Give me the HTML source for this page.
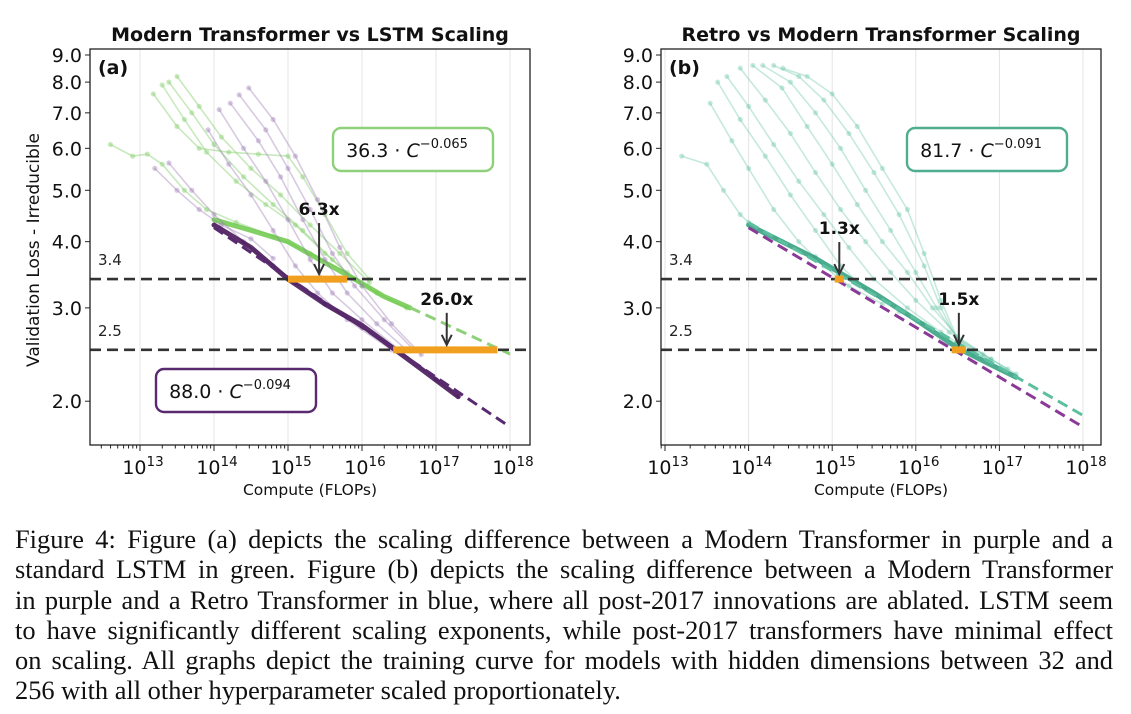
<!DOCTYPE html>
<html><head><meta charset="utf-8">
<style>
body{margin:0;background:#fff;width:1131px;height:714px;overflow:hidden;position:relative}
svg{position:absolute;left:0;top:0}
.cap{position:absolute;left:15px;top:524px;width:1098px;font-family:"Liberation Serif",serif;font-size:26.4px;line-height:30.3px;color:#111}
.cap div{white-space:nowrap;text-align:justify;text-align-last:justify}
.cap div.last{text-align-last:left}
</style></head><body>
<svg id="chart" width="1131" height="520" font-family="'DejaVu Sans','Liberation Sans',sans-serif"></svg>
<div class="cap">
<div>Figure 4: Figure (a) depicts the scaling difference between a Modern Transformer in purple and a</div>
<div>standard LSTM in green. Figure (b) depicts the scaling difference between a Modern Transformer</div>
<div>in purple and a Retro Transformer in blue, where all post-2017 innovations are ablated. LSTM seem</div>
<div>to have significantly different scaling exponents, while post-2017 transformers have minimal effect</div>
<div>on scaling. All graphs depict the training curve for models with hidden dimensions between 32 and</div>
<div class="last">256 with all other hyperparameter scaled proportionately.</div>
</div>
<script>
// ---- data ----
const yTicks=[9,8,7,6,5,4,3,2];
const yTickLabels=["9.0","8.0","7.0","6.0","5.0","4.0","3.0","2.0"];
const xTicks=[13,14,15,16,17,18];
const thresholds=[3.4,2.5];
const thresholdLabels=["3.4","2.5"];
const purpleCurvesA=[
[[13.2,5.5],[13.5,5.0],[13.8,4.6],[14.1,4.3],[14.5,4.05],[14.8,3.72]],
[[13.39,5.63],[13.7,5.0],[14.0,4.5],[14.4,4.0],[14.8,3.6],[15.1,3.35],[15.5,3.05],[16.0,2.75],[16.5,2.5],[17.0,2.2],[17.3,2.04]],
[[13.92,6.5],[14.2,5.6],[14.5,4.9],[14.8,4.2],[15.1,3.6],[15.4,3.2],[15.8,2.85],[16.4,2.5]],
[[14.07,7.1],[14.4,6.0],[14.7,5.2],[15.0,4.4],[15.3,3.7],[15.6,3.2],[16.0,2.85],[16.5,2.5]],
[[14.22,7.3],[14.6,6.2],[14.9,5.3],[15.2,4.4],[15.5,3.7],[15.8,3.2],[16.2,2.8],[16.6,2.5]],
[[14.34,7.57],[14.7,6.5],[15.0,5.5],[15.3,4.6],[15.6,3.8],[15.9,3.3],[16.3,2.85],[16.7,2.5]],
[[14.47,7.8],[14.8,6.8],[15.1,5.8],[15.4,4.8],[15.7,3.9],[16.0,3.3],[16.4,2.8],[16.8,2.45]]];
const purpleEnvA=[[14.0,4.3],[14.5,3.9],[15.0,3.4],[15.5,3.05],[16.0,2.78],[16.4,2.53],[16.8,2.3],[17.3,2.04]];
const greenCurvesA=[
[[12.6,6.1],[12.9,5.8],[13.1,5.85],[13.3,5.6],[13.6,5.0],[13.9,4.6],[14.3,4.35],[14.8,4.1],[15.3,3.8],[15.8,3.5],[16.2,3.2],[16.6,3.0]],
[[13.18,7.6],[13.5,6.6],[13.8,6.0],[14.2,5.9],[14.6,5.85],[15.0,5.8],[15.2,5.3],[15.5,4.5],[15.8,3.8],[16.1,3.4]],
[[13.3,7.9],[13.6,6.8],[13.9,5.9],[14.3,5.2],[14.7,4.7],[15.1,4.3],[15.5,3.8],[15.9,3.4]],
[[13.39,8.0],[13.7,7.0],[14.0,6.1],[14.4,5.3],[14.8,4.7],[15.2,4.2],[15.6,3.7],[16.0,3.3]],
[[13.5,8.2],[13.8,7.2],[14.1,6.3],[14.5,5.5],[14.9,4.9],[15.3,4.3],[15.7,3.8],[16.1,3.35]]];
const greenEnvA=[[14.0,4.4],[14.5,4.2],[15.0,4.0],[15.5,3.65],[15.9,3.4],[16.3,3.15],[16.65,3.0]];
const tealCurvesB=[
[[13.2,5.8],[13.5,5.6],[13.7,5.0],[13.9,4.5],[14.0,4.35],[14.4,4.0],[14.8,3.75]],
[[13.54,7.3],[13.8,6.2],[14.0,5.5],[14.3,4.6],[14.6,4.0],[14.9,3.6],[15.2,3.3],[15.6,3.05]],
[[13.63,8.0],[13.9,6.8],[14.2,5.8],[14.5,4.9],[14.8,4.2],[15.1,3.6],[15.4,3.25],[15.8,2.95],[16.1,2.8]],
[[13.74,8.2],[14.0,7.2],[14.3,6.1],[14.6,5.2],[14.9,4.5],[15.2,3.9],[15.5,3.4],[15.9,3.0],[16.3,2.7],[16.7,2.45]],
[[13.9,8.5],[14.2,7.4],[14.5,6.4],[14.8,5.4],[15.1,4.6],[15.4,4.0],[15.7,3.5],[16.0,3.1],[16.4,2.7],[16.8,2.45],[17.1,2.3]],
[[14.05,8.6],[14.4,7.8],[14.7,6.6],[15.0,5.6],[15.3,4.7],[15.6,4.0],[15.9,3.5],[16.2,3.0],[16.5,2.65],[16.9,2.4],[17.2,2.25]],
[[14.17,8.6],[14.5,8.0],[14.8,7.0],[15.1,6.0],[15.4,5.0],[15.7,4.2],[16.0,3.5],[16.25,3.0],[16.5,2.62],[16.9,2.4]],
[[14.3,8.6],[14.6,8.2],[14.9,7.4],[15.2,6.4],[15.5,5.4],[15.8,4.5],[16.1,3.6],[16.3,3.0],[16.5,2.6],[16.8,2.42]],
[[14.41,8.5],[14.7,8.2],[15.0,7.6],[15.3,6.6],[15.6,5.5],[15.9,4.6],[16.1,3.8],[16.3,3.1],[16.5,2.62],[16.7,2.48]]];
const tealEnvB=[[14.0,4.3],[14.8,3.72],[15.5,3.2],[16.0,2.85],[16.5,2.52],[17.0,2.3],[17.2,2.22]];
// fits: [coef, exponent, logC start, logC end]
const fitPurpleA=[88.0,0.094,14.0,18.0];
const fitGreenA=[36.3,0.065,16.65,18.0];
const fitPurpleB=[88.0,0.094,14.0,18.0];
const fitTealB=[81.7,0.091,14.0,18.0];
// gaps: [loss, logC from, logC to, label]
const gapsA=[[3.4,15.0,15.8,"6.3x"],[2.5,16.42,17.83,"26.0x"]];
const gapsB=[[3.4,15.03,15.14,"1.3x"],[2.5,16.43,16.6,"1.5x"]];

const NS="http://www.w3.org/2000/svg";
const svg=document.getElementById('chart');
function el(tag,attrs,parent,text){const e=document.createElementNS(NS,tag);for(const k in attrs)e.setAttribute(k,attrs[k]);if(text!==undefined)e.textContent=text;(parent||svg).appendChild(e);return e;}
const yOf=L=>55+(Math.log10(9)-Math.log10(L))*530;

function panel(P){
  const g=el('g',{});
  
  
  const xOf=c=>P.x13+(c-13)*P.dec;
  xTicks.forEach(t=>{const l=el('line',{x1:xOf(t),x2:xOf(t),y1:P.top,y2:P.bot,stroke:'#e4e4e4','stroke-width':1},g);
    
    });
  const clip=el('clipPath',{id:P.name+'-clip'},g);
  el('rect',{x:P.left,y:P.top,width:P.right-P.left,height:P.bot-P.top},clip);
  const pg=el('g',{'clip-path':'url(#'+P.name+'-clip)'},g);
  function curve(pts,color,op,w,dots,nm){
    const d=pts.map((p,i)=>(i?'L':'M')+xOf(p[0]).toFixed(1)+' '+yOf(p[1]).toFixed(1)).join(' ');
    const c=el('path',{d:d,fill:'none',stroke:color,'stroke-opacity':op,'stroke-width':w,'stroke-linejoin':'round','stroke-linecap':'round'},pg);
    
    
    if(dots)pts.forEach(p=>{const m=el('circle',{cx:xOf(p[0]),cy:yOf(p[1]),r:2.6,fill:color,'fill-opacity':op},pg);
      
      });
  }
  function fit(f,color,nm){
    const [a,b,c0,c1]=f;
    const l=el('line',{x1:xOf(c0),y1:yOf(a*Math.pow(10,-b*c0)),x2:xOf(c1),y2:yOf(a*Math.pow(10,-b*c1)),stroke:color,'stroke-width':3,'stroke-dasharray':'11 6'},pg);
    
    
  }
  P.series.forEach(s=>{
    s.curves.forEach(cv=>curve(cv,s.color,s.op,1.6,true,s.nm+'-training-curve'));
    curve(s.env,s.envColor,0.85,5,false,s.nm+'-envelope');
  });
  P.fits.forEach(f=>fit(f[0],f[1],f[2]));
  thresholds.forEach((t,i)=>{
    const l=el('line',{x1:P.left,x2:P.right,y1:yOf(t),y2:yOf(t),stroke:'#333','stroke-width':2.6,'stroke-dasharray':'11 6'},g);
    
    
    const tx=el('text',{x:P.left+8,y:yOf(t)-14,'font-size':15,fill:'#222'},g,thresholdLabels[i]);
    
    
  });
  P.gaps.forEach((gp,i)=>{
    const [L,c0,c1,lab]=gp;const y=yOf(L);
    const len=P.arrowLen[i];
    const b=el('line',{x1:xOf(c0),x2:xOf(c1),y1:y,y2:y,stroke:'#f0a01e','stroke-width':7},g);
    
    
    const ax=xOf(P.arrowAt(c0,c1));
    const a=el('line',{x1:ax,x2:ax,y1:y-len,y2:y-5,stroke:'#333','stroke-width':2},g);
    
    
    el('path',{d:`M${ax-5} ${y-15} L${ax} ${y-5} L${ax+5} ${y-15}`,fill:'none',stroke:'#333','stroke-width':2},g);
    const t=el('text',{x:ax,y:y-len-8,'text-anchor':'middle','font-size':17,'font-weight':'bold',fill:'#111'},g,lab);
    
    
  });
  P.boxes.forEach(bx=>{
    const r=el('rect',{x:bx.x,y:bx.y,width:bx.w,height:43,rx:8,fill:'#fff',stroke:bx.color,'stroke-width':2.4},g);
    
    
    const t=el('text',{x:bx.x+bx.w/2-6,y:bx.y+29,'text-anchor':'middle','font-size':19,fill:'#111'},g);
    
    
    el('tspan',{},t,bx.coef+' · ');
    el('tspan',{'font-style':'italic'},t,'C');
    el('tspan',{dy:-9,'font-size':13},t,'−'+bx.exp);
  });
  const fr=el('rect',{x:P.left,y:P.top,width:P.right-P.left,height:P.bot-P.top,fill:'none',stroke:'#222','stroke-width':1.3},g);
  
  
  for(let d=12;d<=18;d++)for(let k=1;k<10;k++){
    const c=d+Math.log10(k);const x=xOf(c);if(x<P.left||x>P.right)continue;
    el('line',{x1:x,x2:x,y1:P.bot,y2:P.bot+(k===1?6:3.5),stroke:'#222','stroke-width':1},g);
  }
  xTicks.forEach(t=>{
    const tx=el('text',{x:xOf(t)+3,y:P.bot+29,'text-anchor':'middle','font-size':19,fill:'#111'},g);
    
    
    el('tspan',{},tx,'10');
    el('tspan',{dy:-8,'font-size':13.5},tx,String(t));
  });
  const xl=el('text',{x:(P.left+P.right)/2,y:P.bot+50,'text-anchor':'middle','font-size':15.5,fill:'#111'},g,'Compute (FLOPs)');
  
  
  yTicks.forEach((t,i)=>{
    el('line',{x1:P.left-5,x2:P.left,y1:yOf(t),y2:yOf(t),stroke:'#222'},g);
    const tx=el('text',{x:P.left-8,y:yOf(t)+7,'text-anchor':'end','font-size':19,fill:'#111'},g,yTickLabels[i]);
    
    
  });
  const ti=el('text',{x:(P.left+P.right)/2,y:41,'text-anchor':'middle','font-size':19,'font-weight':'bold',fill:'#111'},g,P.title);
  
  
  const pl=el('text',{x:P.left+8,y:P.top+25,'font-size':19,'font-weight':'bold',fill:'#111'},g,P.tag);
  
  
}

panel({name:'panel-a',left:90,right:530,top:49,bot:445,x13:140,dec:74,title:'Modern Transformer vs LSTM Scaling',tag:'(a)',
  series:[{curves:greenCurvesA,color:'#86cf6c',op:0.45,env:greenEnvA,envColor:'#6cc94a',nm:'lstm'},
          {curves:purpleCurvesA,color:'#9a7ab4',op:0.4,env:purpleEnvA,envColor:'#3d0a50',nm:'modern-transformer'}],
  fits:[[fitPurpleA,'#5a2a70','modern-transformer-fit'],[fitGreenA,'#8fd07a','lstm-fit']],
  gaps:gapsA,arrowLen:[56,37],arrowAt:(a,b)=>(a+b)/2+0.02,
  boxes:[{x:333,y:128,w:160,color:'#8fd07a',coef:'36.3',exp:'0.065'},{x:156,y:369,w:160,color:'#5a2a70',coef:'88.0',exp:'0.094'}]});
panel({name:'panel-b',left:661,right:1101,top:49,bot:445,x13:665,dec:83.6,title:'Retro vs Modern Transformer Scaling',tag:'(b)',
  series:[{curves:tealCurvesB,color:'#5cbf9e',op:0.35,env:tealEnvB,envColor:'#2e9e7c',nm:'retro-transformer'}],
  fits:[[fitTealB,'#5cc0a0','retro-transformer-fit'],[fitPurpleB,'#8a3a96','modern-transformer-fit']],
  gaps:gapsB,arrowLen:[37,37],arrowAt:(a,b)=>(a+b)/2,
  boxes:[{x:907,y:128,w:160,color:'#4fae90',coef:'81.7',exp:'0.091'}]});
const yl=el('text',{x:0,y:0,transform:'translate(39,250) rotate(-90)','text-anchor':'middle','font-size':17,fill:'#111'},svg,'Validation Loss - Irreducible');


</script>
</body></html>
